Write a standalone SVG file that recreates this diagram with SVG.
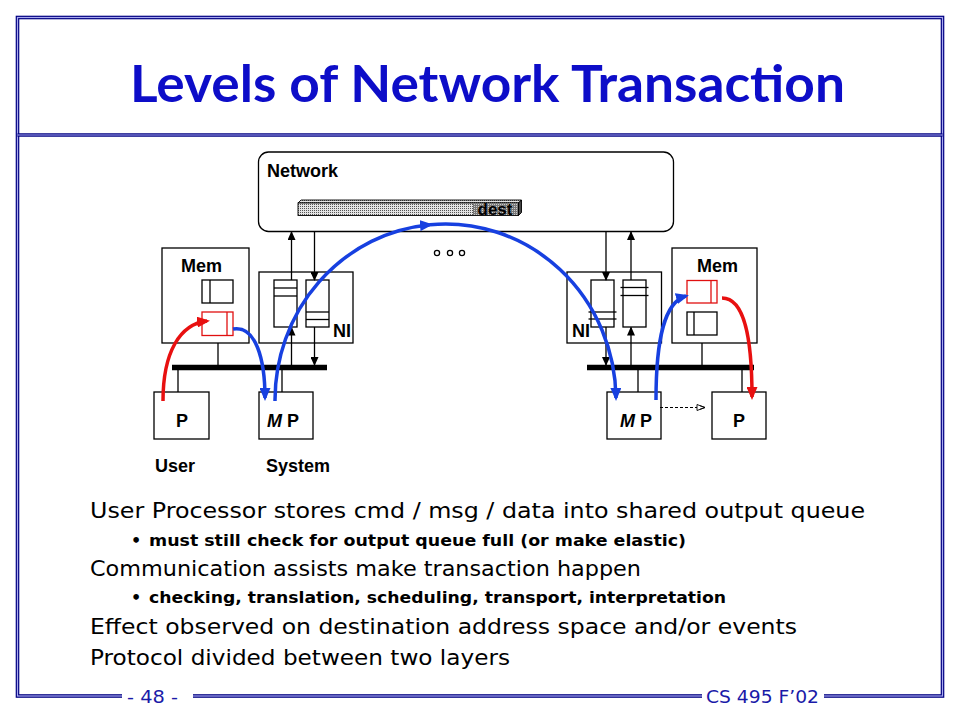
<svg xmlns="http://www.w3.org/2000/svg" width="960" height="720" viewBox="0 0 960 720">
<style>
.frameA{fill:none;stroke:#000080;stroke-width:3.6}
.frameB{fill:none;stroke:#A8A8F0;stroke-width:1.2}
.box{fill:#fff;stroke:#000;stroke-width:1.3}
.rbox{fill:#fff;stroke:#E01010;stroke-width:1.3}
.ln{stroke:#000;stroke-width:1.3;fill:none}
.rln{stroke:#E01010;stroke-width:1.3;fill:none}
.bus{stroke:#000;stroke-width:5.5}
.lbl{font-family:"Liberation Sans",Arial,sans-serif;font-weight:bold;font-size:18px;fill:#000}
.title{font-family:Lato,"DejaVu Sans",sans-serif;font-weight:bold;font-size:52px;fill:#0D0DC8}
.body{font-family:"DejaVu Sans","Liberation Sans",sans-serif;font-size:21px;fill:#000}
.sub{font-family:"DejaVu Sans","Liberation Sans",sans-serif;font-size:16px;font-weight:bold;fill:#000}
.foot{font-family:"DejaVu Sans","Liberation Sans",sans-serif;font-size:18px;fill:#1A1AA8}
.blue{fill:none;stroke:#1740E0;stroke-width:3.5}
.red{fill:none;stroke:#E81010;stroke-width:3.5}
</style>
<defs>
<marker id="ah" markerUnits="userSpaceOnUse" markerWidth="9" markerHeight="8" refX="8" refY="4" orient="auto"><path d="M0,0 L9,4 L0,8 z" fill="#000"/></marker>
<marker id="bh" markerUnits="userSpaceOnUse" markerWidth="13" markerHeight="11" refX="10" refY="5.5" orient="auto"><path d="M0,0 L13,5.5 L0,11 z" fill="#1740E0"/></marker>
<marker id="rh" markerUnits="userSpaceOnUse" markerWidth="13" markerHeight="11" refX="10" refY="5.5" orient="auto"><path d="M0,0 L13,5.5 L0,11 z" fill="#E81010"/></marker>
<marker id="oh" markerUnits="userSpaceOnUse" markerWidth="10" markerHeight="8" refX="9" refY="4" orient="auto"><path d="M1,1 L9,4 L1,7 z M4,2.2 L9,4 L4,5.8" fill="#fff" stroke="#000" stroke-width="0.9"/></marker>
<pattern id="dots" width="2" height="2" patternUnits="userSpaceOnUse"><rect width="2" height="2" fill="#e4e4e4"/><rect width="1" height="1" fill="#555"/></pattern>
<pattern id="dark" width="2" height="2" patternUnits="userSpaceOnUse"><rect width="2" height="2" fill="#777"/><rect width="1" height="1" fill="#ccc"/></pattern>
</defs>

<!-- frame -->
<g id="frame">
<rect class="frameA" x="17.5" y="17.5" width="925" height="678.5"/>
<rect class="frameB" x="17.5" y="17.5" width="925" height="678.5"/>
<line class="frameA" x1="17.5" y1="135" x2="942.5" y2="135"/>
<line class="frameB" x1="17.5" y1="135" x2="942.5" y2="135"/>
<rect x="122" y="688" width="71" height="16" fill="#fff"/>
<rect x="702" y="688" width="122" height="16" fill="#fff"/>
<text class="foot" x="127" y="703" textLength="51" lengthAdjust="spacingAndGlyphs">- 48 -</text>
<text class="foot" x="706" y="703" textLength="113" lengthAdjust="spacingAndGlyphs">CS 495 F’02</text>
</g>

<text id="title" class="title" x="130" y="102" textLength="715" lengthAdjust="spacingAndGlyphs">Levels of Network Transaction</text>

<!-- network -->
<g id="network">
<rect class="box" x="258.5" y="152" width="415" height="79.5" rx="10"/>
<text class="lbl" x="267" y="177">Network</text>
<polygon points="298,203 301,200 521.5,200 518.5,203" fill="url(#dots)" stroke="#000" stroke-width="0.9"/>
<rect x="298" y="203" width="220.5" height="12.5" fill="url(#dots)" stroke="#000" stroke-width="0.9"/>
<polygon points="518.5,203 521.5,200 521.5,212.5 518.5,215.5" fill="#444" stroke="#000" stroke-width="0.9"/>
<rect x="473" y="203.5" width="45" height="11.5" fill="url(#dark)"/>
<text x="495" y="215" text-anchor="middle" font-family="Liberation Sans,Arial,sans-serif" font-weight="bold" font-size="17" fill="#000">dest</text>
</g>

<g id="dots3" fill="none" stroke="#000" stroke-width="1.3">
<circle cx="437" cy="253" r="2.6"/><circle cx="450" cy="253" r="2.6"/><circle cx="462" cy="253" r="2.6"/>
</g>

<!-- left node -->
<g id="mem-left">
<rect class="box" x="162" y="248" width="87" height="95"/>
<text class="lbl" x="181" y="272">Mem</text>
<rect class="box" x="202" y="280" width="31" height="23"/>
<line class="ln" x1="210" y1="280" x2="210" y2="303"/>
<rect class="rbox" x="202" y="312" width="31" height="23.5"/>
<line class="rln" x1="227" y1="312" x2="227" y2="335.5"/>
</g>
<g id="ni-left">
<rect class="box" x="259" y="272" width="94" height="71"/>
<rect class="box" x="274" y="280" width="23" height="47"/>
<line class="ln" x1="274" y1="288" x2="297" y2="288"/>
<line class="ln" x1="274" y1="296" x2="297" y2="296"/>
<rect class="box" x="306" y="280" width="23" height="47"/>
<line class="ln" x1="306" y1="312" x2="329" y2="312"/>
<line class="ln" x1="306" y1="319.5" x2="329" y2="319.5"/>
<text class="lbl" x="333" y="337">NI</text>
</g>
<g id="bus-left">
<line class="bus" x1="172" y1="367.5" x2="327" y2="367.5"/>
</g>
<g id="p-left">
<rect class="box" x="154" y="392" width="55" height="47"/>
<text class="lbl" x="182" y="427" text-anchor="middle">P</text>
</g>
<g id="mp-left">
<rect class="box" x="259" y="392" width="54" height="47"/>
<text class="lbl" x="267" y="427"><tspan font-style="italic">M</tspan> P</text>
</g>
<text id="lbl-user" class="lbl" x="155" y="472">User</text>
<text id="lbl-system" class="lbl" x="266" y="472">System</text>

<!-- right node -->
<g id="ni-right">
<rect class="box" x="567" y="272" width="94.5" height="71"/>
<rect class="box" x="591" y="280" width="23" height="47"/>
<line class="ln" x1="588.5" y1="312" x2="616.5" y2="312"/>
<line class="ln" x1="588.5" y1="319" x2="616.5" y2="319"/>
<rect class="box" x="623" y="280" width="23" height="47"/>
<line class="ln" x1="620.5" y1="287.5" x2="648.5" y2="287.5"/>
<line class="ln" x1="620.5" y1="295.5" x2="648.5" y2="295.5"/>
<text class="lbl" x="572" y="337">NI</text>
</g>
<g id="mem-right">
<rect class="box" x="672" y="248" width="85" height="95"/>
<text class="lbl" x="697" y="272">Mem</text>
<rect class="rbox" x="687" y="280.5" width="30" height="22.5"/>
<line class="rln" x1="711" y1="280.5" x2="711" y2="303"/>
<rect class="box" x="687" y="312" width="30" height="23"/>
<line class="ln" x1="694" y1="312" x2="694" y2="335"/>
</g>
<g id="bus-right">
<line class="bus" x1="587" y1="367.5" x2="754" y2="367.5"/>
</g>
<g id="mp-right">
<rect class="box" x="607" y="392" width="54" height="47"/>
<text class="lbl" x="620" y="427"><tspan font-style="italic">M</tspan> P</text>
</g>
<g id="p-right">
<rect class="box" x="712" y="392" width="54" height="47"/>
<text class="lbl" x="739" y="427" text-anchor="middle">P</text>
</g>

<!-- connectors -->
<g id="connectors">
<line class="ln" x1="218" y1="343" x2="218" y2="365"/>
<line class="ln" x1="178" y1="370" x2="178" y2="392"/>
<line class="ln" x1="282" y1="370" x2="282" y2="392"/>
<line class="ln" x1="291.5" y1="280" x2="291.5" y2="232" marker-end="url(#ah)"/>
<line class="ln" x1="291.5" y1="365" x2="291.5" y2="327.5" marker-end="url(#ah)"/>
<line class="ln" x1="314.5" y1="232" x2="314.5" y2="280" marker-end="url(#ah)"/>
<line class="ln" x1="314.5" y1="327" x2="314.5" y2="365" marker-end="url(#ah)"/>

<line class="ln" x1="702" y1="343" x2="702" y2="365"/>
<line class="ln" x1="638" y1="370" x2="638" y2="392"/>
<line class="ln" x1="742" y1="370" x2="742" y2="392"/>
<line class="ln" x1="606" y1="232" x2="606" y2="280" marker-end="url(#ah)"/>
<line class="ln" x1="606" y1="327" x2="606" y2="365" marker-end="url(#ah)"/>
<line class="ln" x1="631" y1="365" x2="631" y2="327.5" marker-end="url(#ah)"/>
<line class="ln" x1="631" y1="280" x2="631" y2="232" marker-end="url(#ah)"/>

<line x1="660" y1="407.5" x2="705" y2="407.5" stroke="#000" stroke-width="1" stroke-dasharray="3,2" marker-end="url(#oh)"/>

<path class="red" d="M163,401 C163,352 180,324 207,321" marker-end="url(#rh)"/>
<path class="blue" d="M233,329 C256,325 265,360 265,398" marker-end="url(#bh)"/>
<path class="blue" d="M275,401 A170.5,176 0 0 1 430,224.7" marker-end="url(#bh)"/>
<path class="blue" d="M430,224.7 A170.5,176 0 0 1 616,398"  marker-end="url(#bh)"/>
<path class="blue" d="M656,400 C656,340 664,302 686,296" marker-end="url(#bh)"/>
<path class="red" d="M722,298 C745,298 752,340 752,397" marker-end="url(#rh)"/>
</g>

<!-- bullets -->
<g id="text-body">
<text class="body" x="90" y="518" textLength="775" lengthAdjust="spacingAndGlyphs">User Processor stores cmd / msg / data into shared output queue</text>
<text class="sub" x="131" y="546">•</text>
<text class="sub" x="149" y="546" textLength="537" lengthAdjust="spacingAndGlyphs">must still check for output queue full (or make elastic)</text>
<text class="body" x="90" y="576" textLength="551" lengthAdjust="spacingAndGlyphs">Communication assists make transaction happen</text>
<text class="sub" x="131" y="603">•</text>
<text class="sub" x="149" y="603" textLength="577" lengthAdjust="spacingAndGlyphs">checking, translation, scheduling, transport, interpretation</text>
<text class="body" x="90" y="634" textLength="707" lengthAdjust="spacingAndGlyphs">Effect observed on destination address space and/or events</text>
<text class="body" x="90" y="665" textLength="420" lengthAdjust="spacingAndGlyphs">Protocol divided between two layers</text>
</g>
</svg>
